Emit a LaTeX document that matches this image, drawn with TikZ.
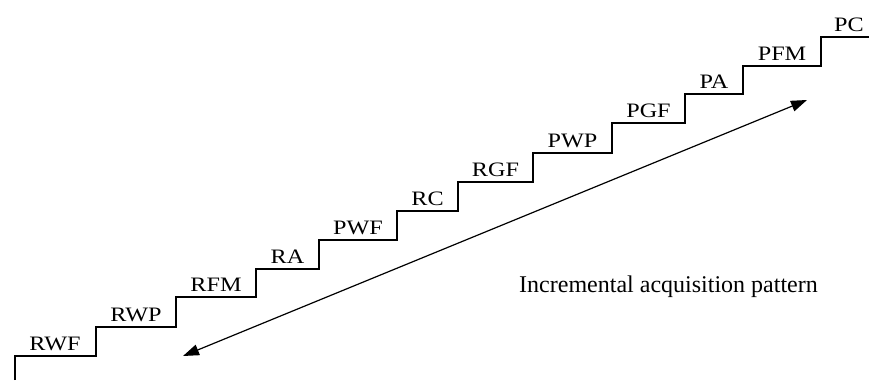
\documentclass[tikz,border=0pt]{standalone}
\usepackage{fontspec}
\setmainfont{Liberation Serif}
\newfontfamily\stairfont[FakeStretch=1.18]{Liberation Serif}
\usepackage{tikz}
\usetikzlibrary{arrows.meta}

\tikzset{
    steplabel/.style={anchor=base, inner sep=0pt, font=\stairfont\fontsize{20.5}{24}\selectfont},
    stairline/.style={line width=2.6pt, line join=miter},
}

\begin{document}
\begin{tikzpicture}[x=1pt, y=-1pt]
    \useasboundingbox (0,0) rectangle (869,380);

    % the staircase
    \draw[stairline] (15,380) -- (15,356) -- (96,356) -- (96,327) -- (176,327)
        -- (176,297) -- (256,297) -- (256,269) -- (319,269) -- (319,240)
        -- (397,240) -- (397,211) -- (458,211) -- (458,182) -- (533,182)
        -- (533,153) -- (612,153) -- (612,123) -- (685,123) -- (685,94)
        -- (743,94) -- (743,66) -- (821,66) -- (821,37) -- (869,37);

        \node[steplabel] (rwf) at (55,350) {RWF};
        \node[steplabel] (rwp) at (136,321) {RWP};
        \node[steplabel] (rfm) at (216,291) {RFM};
        \node[steplabel] (ra) at (287.5,263) {RA};
        \node[steplabel] (pwf) at (358,234) {PWF};
        \node[steplabel] (rc) at (427.5,205) {RC};
        \node[steplabel] (rgf) at (495.5,176) {RGF};
        \node[steplabel] (pwp) at (572.5,147) {PWP};
        \node[steplabel] (pgf) at (648.5,117) {PGF};
        \node[steplabel] (pa) at (714,88) {PA};
        \node[steplabel] (pfm) at (782,60) {PFM};
        \node[steplabel] (pc) at (849,31) {PC};

        \node[anchor=base, inner sep=0pt, font=\fontsize{24}{28}\selectfont] (pattern) at (668.5,292) {Incremental acquisition pattern};

        \coordinate (low) at (183,356);
        \coordinate (high) at (807,100);

        % draw the arrow
        \draw[line width=1.2pt, {Triangle[length=16pt,width=11pt]}-{Triangle[length=16pt,width=11pt]}] (low) -- (high);

\end{tikzpicture}
\end{document}
